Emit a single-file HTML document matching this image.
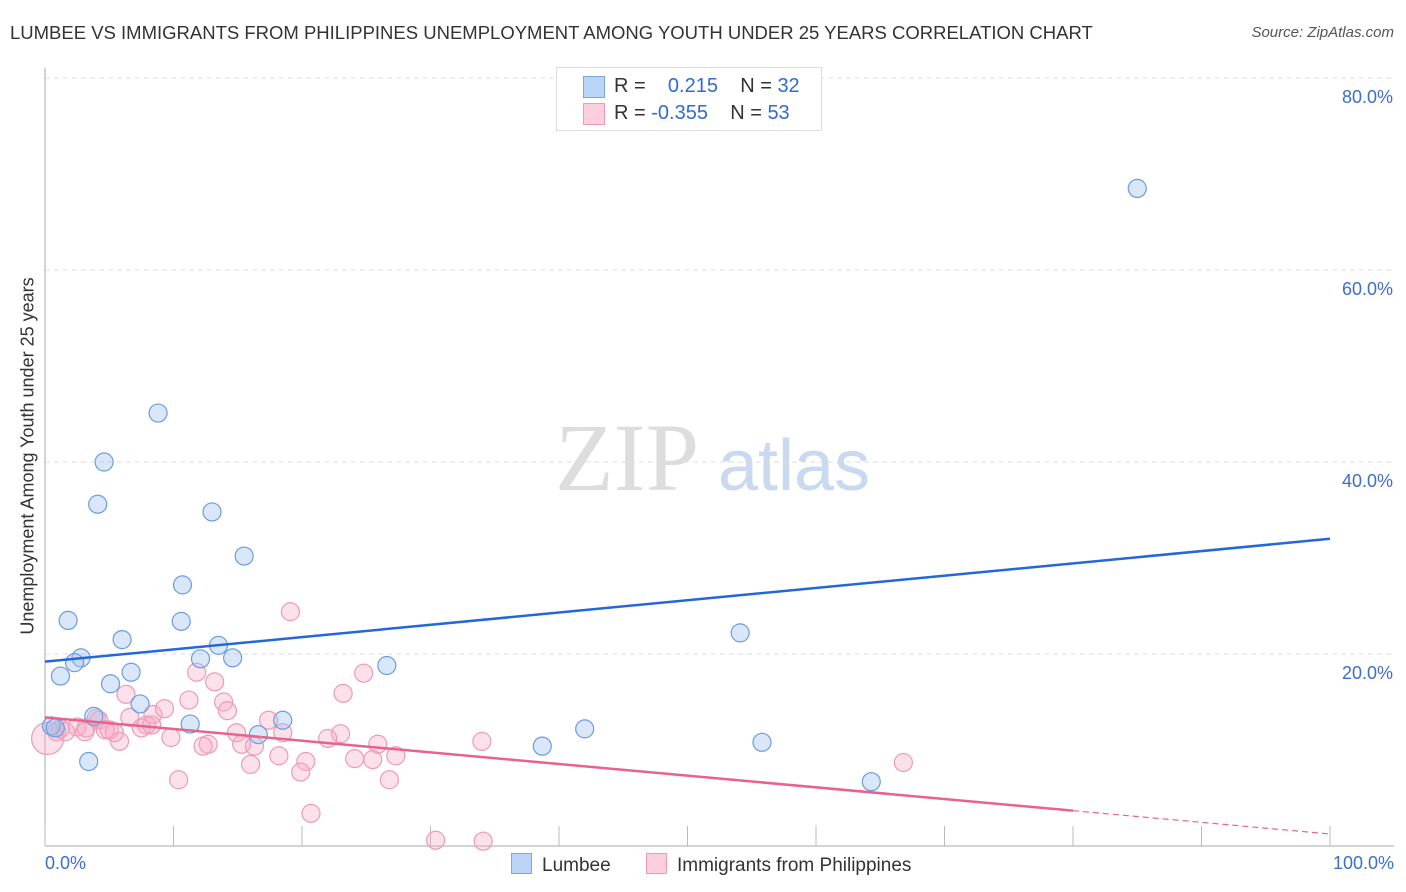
<!DOCTYPE html>
<html><head><meta charset="utf-8"><style>
body{margin:0;background:#fff;font-family:"Liberation Sans",sans-serif;}
#wrap{position:relative;width:1406px;height:892px;overflow:hidden;}
.t{position:absolute;white-space:nowrap;}
</style></head><body>
<div id="wrap">
<div class="t" style="left:10px;top:22px;font-size:18.5px;color:#333;">LUMBEE VS IMMIGRANTS FROM PHILIPPINES UNEMPLOYMENT AMONG YOUTH UNDER 25 YEARS CORRELATION CHART</div>
<div class="t" style="right:12px;top:24px;font-size:15px;color:#555;font-style:italic;">Source: ZipAtlas.com</div>
<svg id="svg" width="1406" height="892" style="position:absolute;left:0;top:0"></svg>
</div>
<script>
const lumbeeX=[85,8.8,4.6,4.1,13,15.5,10.7,1.8,10.6,6,13.5,54.1,2.8,2.3,14.6,12.1,26.6,1.2,6.7,5.1,7.4,3.8,11.3,18.5,16.6,42,38.7,55.8,3.4,64.3,0.5,0.8];
const lumbeeY=[68.5,45.1,40,35.6,34.8,30.2,27.2,23.5,23.4,21.5,20.9,22.2,19.6,19.1,19.6,19.5,18.8,17.7,18.1,16.9,14.8,13.5,12.7,13.1,11.6,12.2,10.4,10.8,8.8,6.7,12.5,12.3];
const philX=[19.1,11.8,24.8,13.2,6.3,11.2,23.2,8.4,9.3,13.9,14.2,4,6.6,17.4,7.9,4.2,2.5,1.2,3.2,4.7,0.9,5.8,7.5,9.8,14.9,18.5,23,22,8.3,12.7,12.3,15.3,16.3,25.9,27.3,34,24.1,25.5,18.2,20.3,16,19.9,10.4,26.8,66.8,20.7,30.4,34.1,0.2,1.6,3.1,5,5.4];
const philY=[24.4,18.1,18,17.1,15.8,15.2,15.9,13.7,14.3,15,14.1,13.3,13.4,13.1,12.6,13.1,12.4,12.2,12.3,12.1,11.9,10.9,12.3,11.3,11.8,11.8,11.7,11.2,12.6,10.6,10.4,10.6,10.4,10.6,9.4,10.9,9.1,9,9.4,8.8,8.5,7.7,6.9,6.9,8.7,3.4,0.6,0.5,11.2,11.9,11.9,12.1,11.8];
const yTicks=[20,40,60,80];
const yTickLabels=["20.0%","40.0%","60.0%","80.0%"];
const blueFit=[19.2,32.0];
const pinkFit=[13.4,1.25];

const X0=45,X1=1330,Yb=846,ppu=9.6;
const sx=v=>X0+(X1-X0)*v/100, sy=v=>Yb-v*ppu;
const svg=document.getElementById('svg');const NS='http://www.w3.org/2000/svg';
function mk(tag,attrs,name){const e=document.createElementNS(NS,tag);for(const k in attrs)e.setAttribute(k,attrs[k]);


svg.appendChild(e);return e;}
let w=mk('text',{x:555,y:490,'font-family':'Liberation Serif, serif','font-size':96,fill:'#ddd'},'watermark-zip');w.textContent='ZIP';
w=mk('text',{x:718,y:490,'font-family':'Liberation Sans, sans-serif','font-size':72,fill:'#c9d9f0'},'watermark-atlas');w.textContent='atlas';
yTicks.forEach((t,i)=>{mk('line',{x1:45,x2:1394,y1:sy(t),y2:sy(t),stroke:'#ddd','stroke-dasharray':'5,4'},'gridline');
const l=mk('text',{x:1393,y:sy(t)+25,'text-anchor':'end','font-size':18,fill:'#3a6fd0','font-family':'Liberation Sans, sans-serif'},'y-tick-label');l.textContent=yTickLabels[i];});
mk('line',{x1:45,x2:45,y1:68,y2:846,stroke:'#aaa'},'y-axis-line');
mk('line',{x1:45,x2:1394,y1:846,y2:846,stroke:'#aaa'},'x-axis-line');
for(let i=0;i<=10;i++)mk('line',{x1:sx(i*10),x2:sx(i*10),y1:826,y2:846,stroke:'#bbb'},'x-tick');
philX.forEach((x,i)=>mk('circle',{cx:sx(x),cy:sy(philY[i]),r:i==48?16:9,fill:'rgba(248,170,195,0.35)',stroke:'#ee9ab5','stroke-width':1.2},'philippines-point'));
lumbeeX.forEach((x,i)=>mk('circle',{cx:sx(x),cy:sy(lumbeeY[i]),r:9,fill:'rgba(160,195,240,0.4)',stroke:'#6a9de0','stroke-width':1.2},'lumbee-point'));
mk('line',{x1:sx(0),y1:sy(blueFit[0]),x2:sx(100),y2:sy(blueFit[1]),stroke:'#2369d6','stroke-width':2.5},'lumbee-trend-line');
const pe=v=>pinkFit[0]+(pinkFit[1]-pinkFit[0])*v/100;
mk('line',{x1:sx(0),y1:sy(pe(0)),x2:sx(80),y2:sy(pe(80)),stroke:'#e8628f','stroke-width':2.5},'philippines-trend-line');
mk('line',{x1:sx(80),y1:sy(pe(80)),x2:sx(100),y2:sy(pe(100)),stroke:'#e8628f','stroke-width':1.2,'stroke-dasharray':'6,4'},'philippines-trend-extension');
</script>
<div class="t" style="left:28px;top:456px;transform:translate(-50%,-50%) rotate(-90deg);font-size:18px;color:#333;">Unemployment Among Youth under 25 years</div>
<div class="t" style="left:45px;top:853px;font-size:18px;color:#3a6fd0;">0.0%</div>
<div class="t" style="right:12px;top:853px;font-size:18px;color:#3a6fd0;">100.0%</div>
<div style="position:absolute;left:556px;top:67px;width:264px;height:62px;border:1px solid #ddd;background:#fff;font-size:20px;">
<div style="position:absolute;left:26px;top:8px;width:20px;height:20px;background:#bcd4f6;border:1px solid #7aa6e6;"></div>
<div style="position:absolute;left:26px;top:35px;width:20px;height:20px;background:#fccfdc;border:1px solid #ee9ab5;"></div>
<div class="t" style="left:57px;top:7px;color:#333;">R = &nbsp;&nbsp;&nbsp;<span style="color:#2f6bd0">0.215</span>&nbsp;&nbsp;&nbsp; N = <span style="color:#2f6bd0">32</span></div>
<div class="t" style="left:57px;top:34px;color:#333;">R = <span style="color:#2f6bd0">-0.355</span>&nbsp;&nbsp;&nbsp; N = <span style="color:#2f6bd0">53</span></div>
</div>
<div style="position:absolute;left:511px;top:853px;font-size:19px;color:#333;"><span style="display:inline-block;width:19px;height:19px;background:#bcd4f6;border:1px solid #7aa6e6;vertical-align:-3px;margin-right:10px;"></span>Lumbee</div>
<div style="position:absolute;left:646px;top:853px;font-size:19px;color:#333;"><span style="display:inline-block;width:19px;height:19px;background:#fccfdc;border:1px solid #ee9ab5;vertical-align:-3px;margin-right:10px;"></span>Immigrants from Philippines</div>
</body></html>
